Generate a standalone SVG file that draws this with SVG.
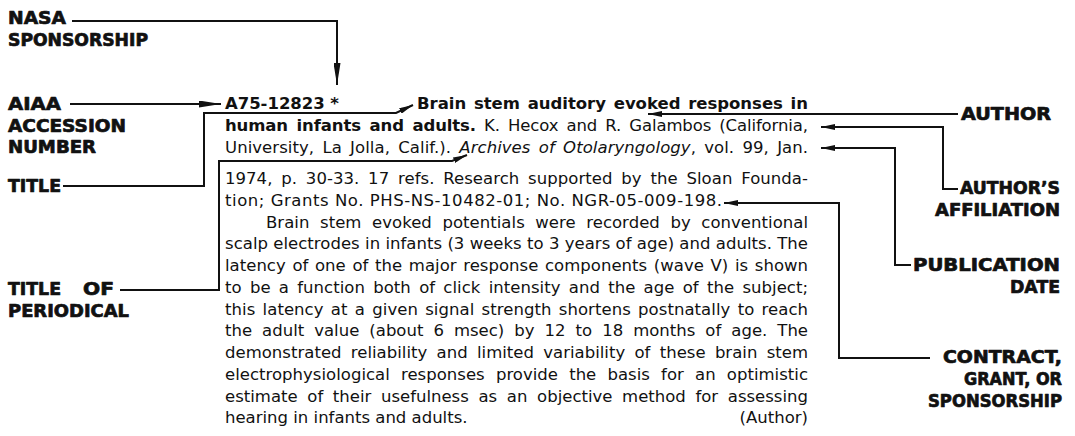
<svg xmlns="http://www.w3.org/2000/svg" width="1075" height="436" viewBox="0 0 1075 436">
<defs>
<style>
.lbl{font-family:"DejaVu Sans","Liberation Sans",sans-serif;font-weight:bold;font-size:17px;fill:#111;stroke:#111;stroke-width:0.7px;stroke-linejoin:round}
.t{font-family:"DejaVu Sans","Liberation Sans",sans-serif;font-size:16.5px;fill:#111}
.b{font-weight:bold}
.i{font-style:italic}
.c{fill:none;stroke:#111;stroke-width:2}
</style>
<marker id="ah" viewBox="0 0 14 6" refX="14" refY="3" markerWidth="14" markerHeight="6" markerUnits="userSpaceOnUse" orient="auto"><path d="M0,0 L14,3 L0,6 Z" fill="#111"/></marker>
<marker id="ahL" viewBox="0 0 22 7" refX="22" refY="3.5" markerWidth="22" markerHeight="7" markerUnits="userSpaceOnUse" orient="auto"><path d="M0,0 L22,3.5 L0,7 Z" fill="#111"/></marker>
</defs>
<rect width="1075" height="436" fill="#fff"/>

<g id="connectors">
<path class="c" d="M72,21 H337 V85" marker-end="url(#ahL)"/>
<path class="c" d="M70,104 H221" marker-end="url(#ahL)"/>
<path class="c" d="M63,186 H204 V113 H396 L413,105" marker-end="url(#ah)"/>
<path class="c" d="M120,290 H219 V161 H452 L467,155" marker-end="url(#ah)"/>
<path class="c" d="M958,114 H648" marker-end="url(#ah)"/>
<path class="c" d="M958,189 H943 V127 H821" marker-end="url(#ah)"/>
<path class="c" d="M911,265 H895 V148 H821" marker-end="url(#ah)"/>
<path class="c" d="M930,358 H839 V203 H724" marker-end="url(#ah)"/>
</g>

<g id="label-nasa">
<text class="lbl" x="8" y="24" textLength="58" lengthAdjust="spacingAndGlyphs">NASA</text>
<text class="lbl" x="8" y="46" textLength="140" lengthAdjust="spacingAndGlyphs">SPONSORSHIP</text>
</g>
<g id="label-aiaa">
<text class="lbl" x="8" y="110" textLength="53" lengthAdjust="spacingAndGlyphs">AIAA</text>
<text class="lbl" x="8" y="132" textLength="118" lengthAdjust="spacingAndGlyphs">ACCESSION</text>
<text class="lbl" x="8" y="153" textLength="88" lengthAdjust="spacingAndGlyphs">NUMBER</text>
</g>
<g id="label-title">
<text class="lbl" x="8" y="192" textLength="53" lengthAdjust="spacingAndGlyphs">TITLE</text>
</g>
<g id="label-periodical">
<text class="lbl" x="8" y="295" textLength="53" lengthAdjust="spacingAndGlyphs">TITLE</text>
<text class="lbl" x="83" y="295" textLength="31" lengthAdjust="spacingAndGlyphs">OF</text>
<text class="lbl" x="8" y="317" textLength="121" lengthAdjust="spacingAndGlyphs">PERIODICAL</text>
</g>
<g id="label-author">
<text class="lbl" x="961" y="120" textLength="90" lengthAdjust="spacingAndGlyphs">AUTHOR</text>
</g>
<g id="label-affiliation">
<text class="lbl" x="960" y="194" textLength="100" lengthAdjust="spacingAndGlyphs">AUTHOR’S</text>
<text class="lbl" x="935" y="216" textLength="125" lengthAdjust="spacingAndGlyphs">AFFILIATION</text>
</g>
<g id="label-date">
<text class="lbl" x="913" y="271" textLength="147" lengthAdjust="spacingAndGlyphs">PUBLICATION</text>
<text class="lbl" x="1010" y="293" textLength="50" lengthAdjust="spacingAndGlyphs">DATE</text>
</g>
<g id="label-contract">
<text class="lbl" x="943" y="363" textLength="119" lengthAdjust="spacingAndGlyphs">CONTRACT,</text>
<text class="lbl" x="964" y="385" textLength="98" lengthAdjust="spacingAndGlyphs">GRANT, OR</text>
<text class="lbl" x="928" y="407" textLength="134" lengthAdjust="spacingAndGlyphs">SPONSORSHIP</text>
</g>

<g id="citation">
<text class="t b" x="225" y="109" textLength="114" lengthAdjust="spacing">A75-12823 *</text>
<text class="t b" x="417" y="109" word-spacing="2" textLength="391" lengthAdjust="spacing">Brain stem auditory evoked responses in</text>
<text class="t" x="225" y="131" word-spacing="3" textLength="583" lengthAdjust="spacing"><tspan class="b">human infants and adults.</tspan> K. Hecox and R. Galambos (California,</text>
<text class="t" x="225" y="153" word-spacing="3" textLength="583" lengthAdjust="spacing">University, La Jolla, Calif.). <tspan class="i">Archives of Otolaryngology</tspan>, vol. 99, Jan.</text>
<text class="t" x="225" y="184" word-spacing="3.5" textLength="583" lengthAdjust="spacing">1974, p. 30-33. 17 refs. Research supported by the Sloan Founda-</text>
<text class="t" x="225" y="206" textLength="497" lengthAdjust="spacing">tion; Grants No. PHS-NS-10482-01; No. NGR-05-009-198.</text>
<text class="t" x="266" y="228" word-spacing="5.3" textLength="542" lengthAdjust="spacing">Brain stem evoked potentials were recorded by conventional</text>
<text class="t" x="225" y="249" textLength="583" lengthAdjust="spacing">scalp electrodes in infants (3 weeks to 3 years of age) and adults. The</text>
<text class="t" x="225" y="271" word-spacing="1.4" textLength="583" lengthAdjust="spacing">latency of one of the major response components (wave V) is shown</text>
<text class="t" x="225" y="293" word-spacing="3" textLength="583" lengthAdjust="spacing">to be a function both of click intensity and the age of the subject;</text>
<text class="t" x="225" y="315" word-spacing="2" textLength="583" lengthAdjust="spacing">this latency at a given signal strength shortens postnatally to reach</text>
<text class="t" x="225" y="336" word-spacing="4.8" textLength="583" lengthAdjust="spacing">the adult value (about 6 msec) by 12 to 18 months of age. The</text>
<text class="t" x="225" y="358" word-spacing="4" textLength="583" lengthAdjust="spacing">demonstrated reliability and limited variability of these brain stem</text>
<text class="t" x="225" y="380" word-spacing="5.9" textLength="583" lengthAdjust="spacing">electrophysiological responses provide the basis for an optimistic</text>
<text class="t" x="225" y="402" word-spacing="4.4" textLength="583" lengthAdjust="spacing">estimate of their usefulness as an objective method for assessing</text>
<text class="t" x="225" y="423">hearing in infants and adults.</text>
<text class="t" x="808" y="423" text-anchor="end">(Author)</text>
</g>
</svg>
